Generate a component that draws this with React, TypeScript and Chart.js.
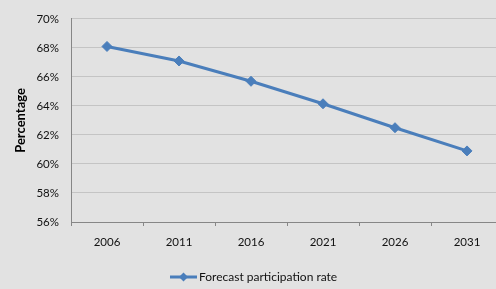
import React, { useEffect, useRef } from "react";
import { Chart, registerables } from "chart.js";

Chart.register(...registerables);

const categories = ["2006", "2011", "2016", "2021", "2026", "2031"];
const participationRate = [68.1, 67.1, 65.7, 64.15, 62.5, 60.9];
const seriesName = "Forecast participation rate";
const yMin = 56;
const yMax = 70;
const yStep = 2;

const FONT = "Lato, 'Liberation Sans', sans-serif";
const LINE_COLOR = "#4a7ebb";

const legendPlugin = {
  id: "customLegend",
  afterDraw(chart: any) {
    const ctx = chart.ctx;
    const y = 277;
    const x0 = 170;
    const x1 = 197;
    ctx.save();
    ctx.strokeStyle = LINE_COLOR;
    ctx.lineWidth = 3;
    ctx.beginPath();
    ctx.moveTo(x0, y);
    ctx.lineTo(x1, y);
    ctx.stroke();
    const cx = (x0 + x1) / 2;
    const r = 4.5;
    ctx.fillStyle = LINE_COLOR;
    ctx.beginPath();
    ctx.moveTo(cx, y - r);
    ctx.lineTo(cx + r, y);
    ctx.lineTo(cx, y + r);
    ctx.lineTo(cx - r, y);
    ctx.closePath();
    ctx.fill();
    ctx.fillStyle = "#111";
    ctx.font = `12px ${FONT}`;
    ctx.textBaseline = "middle";
    ctx.textAlign = "left";
    ctx.fillText(seriesName, x1 + 2, y);
    ctx.restore();
  },
};

export default function App() {
  const ref = useRef<HTMLCanvasElement | null>(null);

  useEffect(() => {
    if (!ref.current) return;
    const chart = new Chart(ref.current, {
      type: "line",
      data: {
        labels: categories,
        datasets: [
          {
            label: seriesName,
            data: participationRate,
            borderColor: LINE_COLOR,
            backgroundColor: LINE_COLOR,
            borderWidth: 3,
            pointStyle: "rectRot",
            pointRadius: 5,
            pointHoverRadius: 5,
            pointBackgroundColor: LINE_COLOR,
            pointBorderColor: LINE_COLOR,
            pointBorderWidth: 1,
            tension: 0,
          },
        ],
      },
      options: {
        animation: false,
        responsive: false,
        maintainAspectRatio: false,
        layout: { padding: { top: 13, right: 0, bottom: 0, left: 0 } },
        plugins: {
          legend: { display: false },
          tooltip: { enabled: false },
        },
        scales: {
          x: {
            type: "category",
            offset: true,
            grid: {
              offset: true,
              drawOnChartArea: false,
              drawTicks: true,
              tickLength: 4,
              color: "#868686",
            },
            border: { display: true, color: "#868686", width: 1 },
            ticks: {
              color: "#111",
              font: { family: FONT, size: 11.5 },
              padding: 9,
              maxRotation: 0,
            },
            afterFit: (s: any) => {
              s.height = 67;
            },
          },
          y: {
            min: yMin,
            max: yMax,
            grid: {
              color: "#c4c4c4",
              lineWidth: 1,
              drawTicks: false,
            },
            border: { display: true, color: "#868686", width: 1 },
            ticks: {
              stepSize: yStep,
              color: "#111",
              font: { family: FONT, size: 11.5 },
              padding: 12,
              callback: (v: any) => `${v}%`,
            },
            title: {
              display: true,
              text: "Percentage",
              color: "#000",
              font: { family: FONT, size: 13, weight: "bold" },
              padding: { top: 13, bottom: 0 },
            },
            afterFit: (s: any) => {
              s.width = 71;
            },
          },
        },
      },
      plugins: [legendPlugin],
    } as any);
    return () => chart.destroy();
  }, []);

  return (
    <div
      style={{
        position: "fixed",
        left: 0,
        top: 0,
        width: 496,
        height: 289,
        overflow: "hidden",
        background: "#e2e2e2",
      }}
    >
      <canvas ref={ref} width={509} height={289} style={{ width: 509, height: 289, display: "block" }} />
    </div>
  );
}
